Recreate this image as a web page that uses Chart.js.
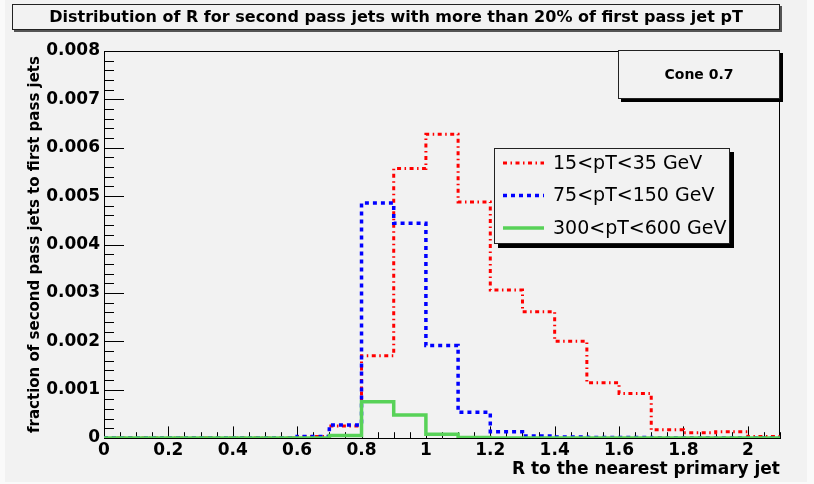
<!DOCTYPE html>
<html>
<head>
<meta charset="utf-8">
<script src="https://cdn.jsdelivr.net/npm/chart.js@4.4.1/dist/chart.umd.min.js"></script>
<style>
  html, body { margin: 0; padding: 0; background: #fafafa; }
  #wrap { position: relative; width: 814px; height: 484px; overflow: hidden; }
  #pad { position: absolute; left: 5px; top: 0; width: 802px; height: 482px; background: #f2f2f2; }
  #c { position: absolute; left: 0; top: 0; }
  .box { position: absolute; box-sizing: border-box; background: #f2f2f2; border: 1px solid #222;
         font-family: "DejaVu Sans", sans-serif; font-weight: bold; color: #000; text-align: center; white-space: nowrap; }
  #title { left: 12px; top: 4px; width: 768px; height: 26px; line-height: 24px; font-size: 16px; box-shadow: 2px 2px 0 #555; }
  #cone { left: 618px; top: 50px; width: 162px; height: 49px; line-height: 47px; font-size: 14px; box-shadow: 3px 3px 0 #000; }
</style>
</head>
<body>
<div id="wrap">
  <div id="pad"></div>
  <canvas id="c" width="814" height="484"></canvas>
  <div id="title" class="box">Distribution of R for second pass jets with more than 20% of first pass jet pT</div>
  <div id="cone" class="box">Cone 0.7</div>
</div>
<script>
// ---- data ----
const binEdges = [0, 0.1, 0.2, 0.3, 0.4, 0.5, 0.6, 0.7, 0.8, 0.9, 1.0, 1.1, 1.2, 1.3, 1.4, 1.5, 1.6, 1.7, 1.8, 1.9, 2.0, 2.1];
const seriesLabels = ["15<pT<35 GeV", "75<pT<150 GeV", "300<pT<600 GeV"];
const lowPt  = [0, 0, 0, 0, 0, 0, 0.00003, 0.00025, 0.00170, 0.00557, 0.00628, 0.00488, 0.00306, 0.00261, 0.00200, 0.00114, 0.00092, 0.00017, 0.00011, 0.00013, 0.00003];
const midPt  = [0, 0, 0, 0, 0, 0, 0.00003, 0.00027, 0.00486, 0.00444, 0.00191, 0.00053, 0.00013, 0.00004, 0.00002, 0.00001, 0.00001, 0, 0, 0, 0];
const highPt = [0, 0, 0, 0, 0, 0, 0, 0.00005, 0.00075, 0.000475, 0.00008, 0.00001, 0, 0, 0, 0, 0, 0, 0, 0, 0];
const xTicks = [0, 0.2, 0.4, 0.6, 0.8, 1.0, 1.2, 1.4, 1.6, 1.8, 2.0];
const yTicks = [0, 0.001, 0.002, 0.003, 0.004, 0.005, 0.006, 0.007, 0.008];
const xTitle = "R to the nearest primary jet";
const yTitle = "fraction of second pass jets to first pass jets";

function histPoints(values) {
  const pts = [];
  values.forEach((v, i) => {
    pts.push({x: binEdges[i], y: v});
    pts.push({x: binEdges[i + 1], y: v});
  });
  return pts;
}

Chart.defaults.font.family = "'DejaVu Sans', sans-serif";
Chart.defaults.color = '#000';

const frameTicks = {
  id: 'frameTicks',
  beforeDatasetsDraw(chart) {
    const {ctx, chartArea: a, scales: {x, y}} = chart;
    ctx.save();
    ctx.strokeStyle = '#000';
    ctx.lineWidth = 1;
    ctx.beginPath();
    // frame top and right
    ctx.moveTo(a.left, Math.round(a.top) + 0.5);
    ctx.lineTo(a.right, Math.round(a.top) + 0.5);
    ctx.moveTo(Math.round(a.right) - 0.5, a.top);
    ctx.lineTo(Math.round(a.right) - 0.5, a.bottom);
    // y ticks (inside)
    const yMajorLen = 20, yMinorLen = 10;
    for (let i = 0; i < yTicks.length; i++) {
      const py = Math.round(y.getPixelForValue(yTicks[i])) + 0.5;
      ctx.moveTo(a.left, py); ctx.lineTo(a.left + yMajorLen, py);
      if (i < yTicks.length - 1) {
        for (let k = 1; k < 5; k++) {
          const v = yTicks[i] + (yTicks[i + 1] - yTicks[i]) * k / 5;
          const pm = Math.round(y.getPixelForValue(v)) + 0.5;
          ctx.moveTo(a.left, pm); ctx.lineTo(a.left + yMinorLen, pm);
        }
      }
    }
    // x ticks (inside)
    const xMajorLen = 11.6, xMinorLen = 5.8;
    xTicks.forEach(v => {
      const px = Math.round(x.getPixelForValue(v)) + 0.5;
      ctx.moveTo(px, a.bottom); ctx.lineTo(px, a.bottom - xMajorLen);
    });
    const step = (xTicks[1] - xTicks[0]) / 4;
    for (let k = 1; k * step <= x.max + 1e-9; k++) {
      if (k % 4 === 0) continue;
      const px = Math.round(x.getPixelForValue(k * step)) + 0.5;
      ctx.moveTo(px, a.bottom); ctx.lineTo(px, a.bottom - xMinorLen);
    }
    ctx.stroke();
    ctx.restore();
  }
};

const legendBox = {
  id: 'legendBox',
  afterDraw(chart) {
    const {ctx} = chart;
    const L = 494, T = 148, W = 236, H = 96, sh = 4;
    ctx.save();
    ctx.fillStyle = '#000';
    ctx.fillRect(L + sh, T + sh, W, H);
    ctx.fillStyle = '#f2f2f2';
    ctx.fillRect(L, T, W, H);
    ctx.strokeStyle = '#222';
    ctx.lineWidth = 1;
    ctx.strokeRect(L + 0.5, T + 0.5, W - 1, H - 1);
    const order = [0, 1, 2];
    const rowY = [163, 195.5, 228];
    order.forEach((di, r) => {
      const ds = chart.data.datasets[di];
      ctx.save();
      ctx.beginPath();
      ctx.rect(L + 1, T + 1, W - 2, H - 2);
      ctx.clip();
      ctx.strokeStyle = ds.borderColor;
      ctx.lineWidth = ds.borderWidth;
      ctx.setLineDash(ds.borderDash || []);
      ctx.lineCap = 'butt';
      ctx.beginPath();
      ctx.moveTo(503, rowY[r]);
      ctx.lineTo(544, rowY[r]);
      ctx.stroke();
      ctx.setLineDash([]);
      ctx.fillStyle = '#000';
      ctx.font = "19px 'DejaVu Sans', sans-serif";
      ctx.textAlign = 'left';
      ctx.textBaseline = 'middle';
      ctx.fillText(ds.label, 553, rowY[r] + 1);
      ctx.restore();
    });
    ctx.restore();
  }
};

new Chart(document.getElementById('c'), {
  type: 'line',
  data: {
    datasets: [
      { label: seriesLabels[0], data: histPoints(lowPt), borderColor: '#ff0000', borderWidth: 3,
        borderDash: [4, 3.5, 1.5, 3.5], order: 2 },
      { label: seriesLabels[1], data: histPoints(midPt), borderColor: '#0000ff', borderWidth: 3.5,
        borderDash: [4, 4], order: 1 },
      { label: seriesLabels[2], data: histPoints(highPt), borderColor: '#58d258', borderWidth: 3.5,
        order: 0 }
    ]
  },
  options: {
    responsive: false,
    animation: false,
    parsing: true,
    elements: { point: { radius: 0 }, line: { tension: 0, fill: false, borderCapStyle: 'butt', borderJoinStyle: 'miter' } },
    layout: { padding: { left: 0, right: 34, top: 51, bottom: 0 } },
    plugins: { legend: { display: false }, tooltip: { enabled: false }, title: { display: false } },
    scales: {
      x: {
        type: 'linear', min: 0, max: 2.1, bounds: 'data',
        afterBuildTicks: s => { s.ticks = xTicks.map(v => ({value: v})); },
        afterFit: s => { s.height = 46; },
        grid: { display: false, drawTicks: false },
        border: { display: true, color: '#000', width: 1 },
        ticks: { font: { size: 17, weight: 'bold' }, color: '#000', padding: 2, maxRotation: 0, autoSkip: false,
                 callback: v => String(Number(v.toFixed(1))) },
        title: { display: true, text: xTitle, align: 'end', color: '#000',
                 font: { size: 17, weight: 'bold' }, padding: { top: 0, bottom: 4 } }
      },
      y: {
        type: 'linear', min: 0, max: 0.008, bounds: 'data',
        afterBuildTicks: s => { s.ticks = yTicks.map(v => ({value: v})); },
        afterFit: s => { s.width = 104; },
        grid: { display: false, drawTicks: false },
        border: { display: true, color: '#000', width: 1 },
        ticks: { font: { size: 17, weight: 'bold' }, color: '#000', padding: 4, autoSkip: false,
                 callback: v => v === 0 ? '0' : v.toFixed(3) },
        title: { display: true, text: yTitle, align: 'center', color: '#000',
                 font: { size: 15, weight: 'bold' }, padding: { top: 26, bottom: 0 } }
      }
    }
  },
  plugins: [frameTicks, legendBox]
});
</script>
</body>
</html>
